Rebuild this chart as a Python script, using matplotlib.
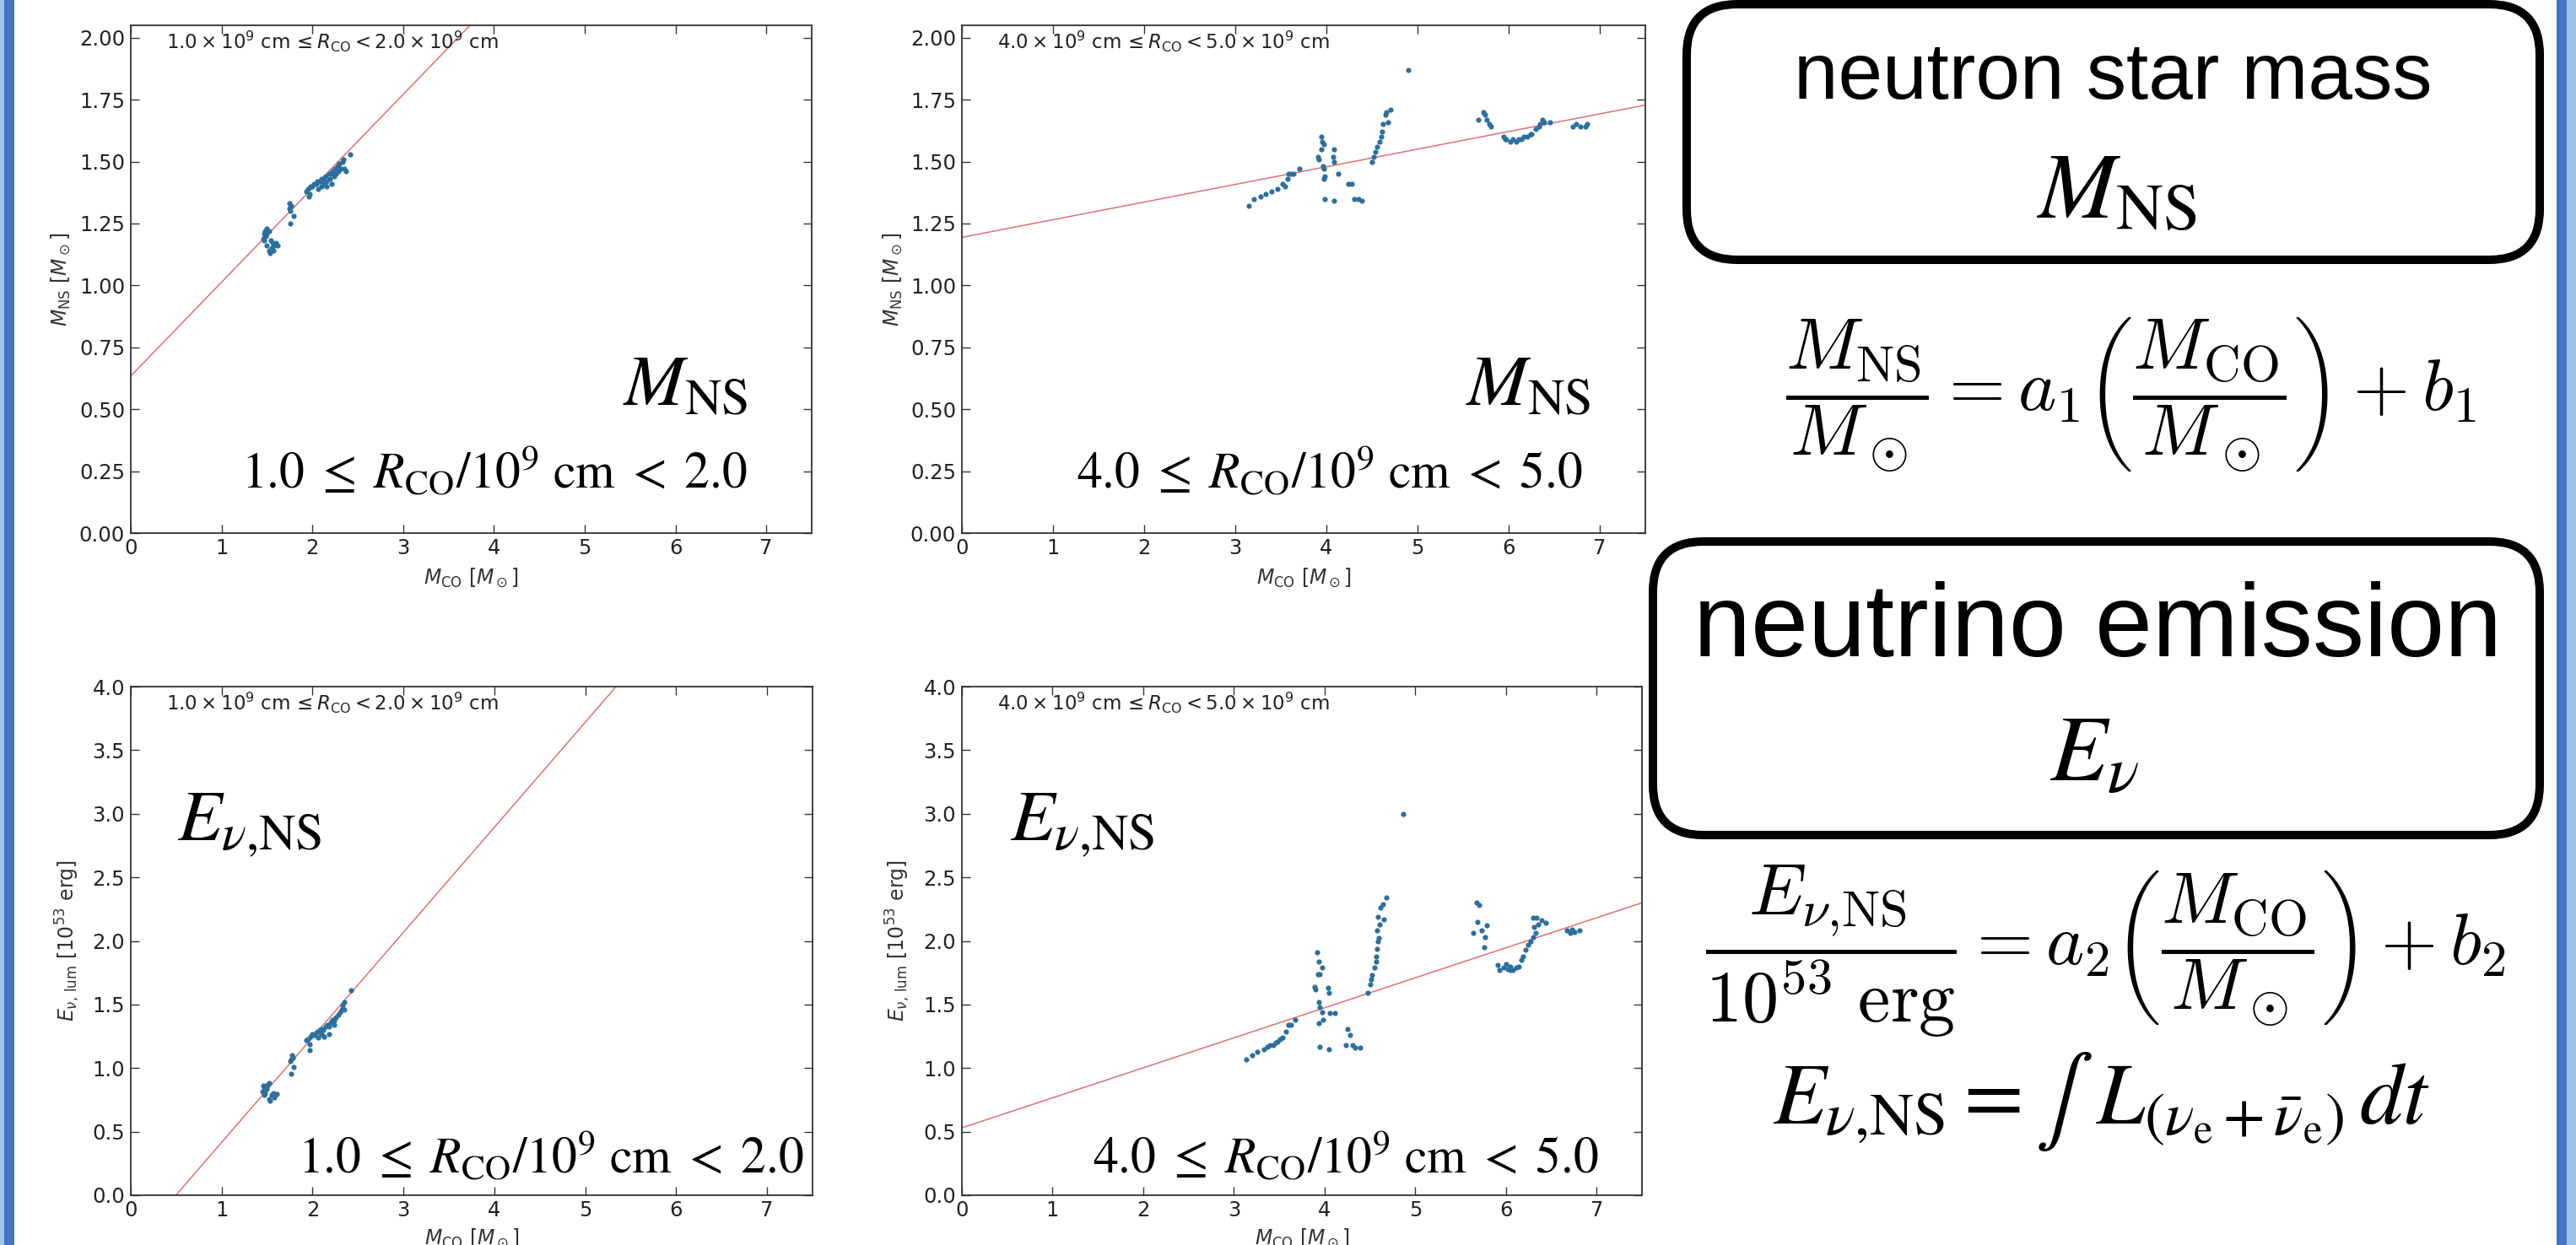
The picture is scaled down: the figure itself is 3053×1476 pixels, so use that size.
import matplotlib
matplotlib.use("Agg")
import matplotlib.pyplot as plt
from matplotlib.patches import FancyBboxPatch, Rectangle

# ---------------- data ----------------
xlim = (0, 7.5)
xticks = [0, 1, 2, 3, 4, 5, 6, 7]
yticks_ns = [0.00, 0.25, 0.50, 0.75, 1.00, 1.25, 1.50, 1.75, 2.00]
yticks_e = [0.0, 0.5, 1.0, 1.5, 2.0, 2.5, 3.0, 3.5, 4.0]

# top-left: 1.0 <= R_CO/1e9 cm < 2.0, M_NS vs M_CO
tl_mco = [1.46, 1.47, 1.48, 1.49, 1.50, 1.51, 1.47, 1.50, 1.52, 1.48,
          1.50, 1.52, 1.53, 1.55, 1.56, 1.58, 1.60, 1.62, 1.57, 1.54,
          1.75, 1.75, 1.76, 1.77, 1.79, 1.76,
          1.93, 1.95, 1.97, 1.98, 2.00, 2.02, 2.04, 2.05, 2.07, 2.09,
          2.10, 2.12, 2.13, 2.15, 2.16, 2.18, 2.19, 2.20, 2.21, 2.22,
          2.24, 2.25, 2.26, 2.28, 2.29, 2.30, 2.31, 2.33, 2.34, 2.35,
          2.37, 2.42, 2.10, 2.16, 2.06, 1.96]
tl_mns = [1.19, 1.21, 1.22, 1.20, 1.23, 1.22, 1.18, 1.21, 1.22, 1.20,
          1.16, 1.14, 1.13, 1.15, 1.17, 1.16, 1.17, 1.16, 1.14, 1.18,
          1.33, 1.31, 1.30, 1.32, 1.28, 1.25,
          1.38, 1.39, 1.37, 1.40, 1.40, 1.41, 1.41, 1.42, 1.42, 1.42,
          1.43, 1.43, 1.41, 1.44, 1.42, 1.45, 1.43, 1.45, 1.41, 1.46,
          1.44, 1.47, 1.45, 1.48, 1.46, 1.49, 1.47, 1.50, 1.51, 1.47,
          1.46, 1.53, 1.40, 1.40, 1.39, 1.36]
tl_fit_slope, tl_fit_icpt = 0.379, 0.634

# top-right: 4.0 <= R_CO/1e9 cm < 5.0, M_NS vs M_CO
tr_mco = [3.15, 3.20, 3.28, 3.33, 3.40, 3.46, 3.52, 3.57, 3.58, 3.61, 3.64, 3.55,
          3.70,
          3.94, 3.95, 3.97, 3.94, 3.91, 3.92, 3.96, 3.97, 3.98, 3.97, 3.98,
          4.08, 4.07, 4.08, 4.13, 4.08,
          4.24, 4.28, 4.31, 4.35, 4.39,
          4.50, 4.52, 4.54, 4.56, 4.58, 4.60, 4.61, 4.62, 4.65, 4.66, 4.68, 4.70,
          4.90,
          5.72, 5.74, 5.67, 5.76, 5.79, 5.81,
          5.94, 5.97, 6.02, 6.08, 6.14, 6.20, 6.25, 6.30, 6.34, 6.39, 6.45,
          6.05, 6.11, 6.17, 6.24, 6.33, 6.37, 5.96,
          6.70, 6.74, 6.79, 6.84, 6.86]
tr_mns = [1.32, 1.35, 1.36, 1.37, 1.38, 1.39, 1.41, 1.43, 1.45, 1.45, 1.45, 1.40,
          1.47,
          1.60, 1.58, 1.57, 1.55, 1.52, 1.51, 1.48, 1.47, 1.44, 1.43, 1.35,
          1.55, 1.52, 1.50, 1.45, 1.34,
          1.41, 1.41, 1.35, 1.35, 1.34,
          1.50, 1.52, 1.54, 1.56, 1.58, 1.60, 1.62, 1.65, 1.69, 1.70, 1.66, 1.71,
          1.87,
          1.70, 1.69, 1.67, 1.67, 1.65, 1.64,
          1.60, 1.59, 1.58, 1.58, 1.59, 1.60, 1.61, 1.63, 1.65, 1.66, 1.66,
          1.59, 1.59, 1.60, 1.61, 1.64, 1.67, 1.59,
          1.64, 1.65, 1.64, 1.64, 1.65]
tr_fit_slope, tr_fit_icpt = 0.0712, 1.194

# bottom-left: 1.0 <= R_CO/1e9 cm < 2.0, E_nu vs M_CO
bl_mco = [1.46, 1.49, 1.45, 1.52, 1.47, 1.50, 1.48,
          1.47, 1.52, 1.55, 1.61, 1.58, 1.53, 1.57,
          1.76, 1.77, 1.75, 1.79, 1.76, 1.78,
          1.93, 1.95, 1.97, 1.98, 2.00, 2.02, 2.04, 2.06, 2.08, 2.10,
          2.12, 2.14, 2.16, 2.18, 2.20, 2.22, 2.24, 2.26, 2.28, 2.30,
          2.32, 2.33, 2.35, 2.10, 2.06, 2.18, 2.24, 2.35, 2.42, 1.97, 2.13]
bl_e = [0.865, 0.834, 0.819, 0.881, 0.85, 0.87, 0.80,
        0.788, 0.756, 0.788, 0.794, 0.772, 0.74, 0.80,
        1.068, 1.099, 1.052, 1.005, 0.953, 1.08,
        1.22, 1.23, 1.19, 1.25, 1.27, 1.26, 1.28, 1.29, 1.30, 1.31,
        1.30, 1.33, 1.34, 1.33, 1.36, 1.38, 1.37, 1.40, 1.42, 1.44,
        1.46, 1.49, 1.52, 1.27, 1.24, 1.27, 1.34, 1.46, 1.61, 1.14, 1.25]
bl_fit_slope, bl_fit_icpt = 0.826, -0.41

# bottom-right: 4.0 <= R_CO/1e9 cm < 5.0, E_nu vs M_CO
br_mco = [3.14, 3.20, 3.26, 3.33, 3.37, 3.43, 3.48, 3.54, 3.57, 3.60, 3.63, 3.51, 3.46, 3.40,
          3.68,
          3.92, 3.94, 3.97, 3.93, 3.95, 3.89, 3.90, 4.04, 4.05, 3.94, 3.95, 3.97, 3.98, 3.94,
          4.06, 4.11, 3.95, 4.05,
          4.25, 4.28, 4.31, 4.34, 4.39, 4.23,
          4.48, 4.50, 4.51, 4.52, 4.55, 4.57, 4.57, 4.58, 4.59, 4.60, 4.58, 4.61, 4.65,
          4.62, 4.64, 4.68, 4.59,
          4.87,
          5.68, 5.70, 5.69, 5.79, 5.73, 5.64, 5.77, 5.76,
          5.91, 5.93, 5.97, 6.02, 6.05, 6.08, 6.11, 6.14, 6.17, 6.19, 6.22, 6.24,
          6.27, 6.30, 6.33, 6.31, 6.30, 6.34, 6.39, 6.44, 6.36, 6.05, 6.00,
          6.67, 6.71, 6.76, 6.81, 6.73]
br_e = [1.07, 1.10, 1.13, 1.15, 1.17, 1.18, 1.21, 1.24, 1.29, 1.34, 1.34, 1.23, 1.20, 1.18,
        1.38,
        1.91, 1.84, 1.79, 1.74, 1.74, 1.64, 1.62, 1.63, 1.59, 1.52, 1.48, 1.44, 1.38, 1.35,
        1.43, 1.43, 1.17, 1.15,
        1.31, 1.26, 1.18, 1.16, 1.16, 1.18,
        1.59, 1.66, 1.70, 1.73, 1.79, 1.84, 1.88, 1.94, 2.00, 2.02, 2.08, 2.13, 2.17,
        2.26, 2.29, 2.34, 2.19,
        3.00,
        2.30, 2.28, 2.15, 2.12, 2.08, 2.06, 2.03, 1.95,
        1.81, 1.77, 1.79, 1.78, 1.80, 1.77, 1.79, 1.80, 1.85, 1.88, 1.93, 1.97,
        2.00, 2.03, 2.06, 2.11, 2.18, 2.18, 2.16, 2.14, 2.13, 1.77, 1.82,
        2.08, 2.06, 2.07, 2.08, 2.09]
br_fit_slope, br_fit_icpt = 0.236, 0.53

range_lo = ["1.0", "4.0"]
range_hi = ["2.0", "5.0"]

# ---------------- figure ----------------
W, H = 3053, 1476
fig = plt.figure(figsize=(W / 100, H / 100), dpi=100)
fig.patch.set_facecolor("white")

def ax_rect(x0, x1, y0, y1):
    return [x0 / W, 1 - y1 / H, (x1 - x0) / W, (y1 - y0) / H]

PT_COLOR = "#2b6f9f"
FIT_COLOR = "#e07070"

def make_panel(rect, xs, ys, slope, icpt, ylim, yticks, ylabel, lo, hi, ylab_x, xlab_y):
    ax = fig.add_axes(rect)
    ax.set_xlim(*xlim)
    ax.set_ylim(*ylim)
    ax.set_xticks(xticks)
    ax.set_yticks(yticks)
    ax.tick_params(direction="in", top=True, right=True, length=7, width=1.0,
                   labelsize=17.5, color="#333333", labelcolor="#222222")
    ax.tick_params(axis="y", pad=5)
    ax.tick_params(axis="x", pad=4)
    for s in ax.spines.values():
        s.set_linewidth(1.3)
        s.set_color("#333333")
    ax.axline((0, icpt), slope=slope, color=FIT_COLOR, lw=1.1, zorder=2)
    ax.scatter(xs, ys, s=20, c=PT_COLOR, linewidths=0, zorder=3)
    ax.set_xlabel(r"$M_{\rm CO}$ [$M_\odot$]", fontsize=17, color="#333333")
    ax.set_ylabel(ylabel, fontsize=17, color="#333333")
    ax.xaxis.set_label_coords(0.5, xlab_y)
    ax.xaxis.label.set_va("center")
    ax.yaxis.set_label_coords(ylab_x, 0.5)
    ax.yaxis.label.set_va("center")
    ax.text(0.052, 0.968,
            r"$%s\times10^9$ cm $\!\leq R_{\rm CO}<%s\times10^9$ cm" % (lo, hi),
            transform=ax.transAxes, fontsize=16.5, va="center", ha="left", color="#222222")
    return ax

lab_ns = r"$M_{\rm NS}$ [$M_\odot$]"
lab_e = r"$E_{\nu,\,\rm lum}$ [$10^{53}$ erg]"

make_panel(ax_rect(155, 962, 30, 632), tl_mco, tl_mns, tl_fit_slope, tl_fit_icpt,
           (0, 2.05), yticks_ns, lab_ns, range_lo[0], range_hi[0], -0.103, -0.088)
make_panel(ax_rect(1140, 1950, 30, 632), tr_mco, tr_mns, tr_fit_slope, tr_fit_icpt,
           (0, 2.05), yticks_ns, lab_ns, range_lo[1], range_hi[1], -0.101, -0.088)
make_panel(ax_rect(155, 963, 814, 1417), bl_mco, bl_e, bl_fit_slope, bl_fit_icpt,
           (0, 4.0), yticks_e, lab_e, range_lo[0], range_hi[0], -0.093, -0.085)
make_panel(ax_rect(1140, 1946, 814, 1417), br_mco, br_e, br_fit_slope, br_fit_icpt,
           (0, 4.0), yticks_e, lab_e, range_lo[1], range_hi[1], -0.094, -0.085)

# ---------------- overlay in pixel coordinates ----------------
ov = fig.add_axes([0, 0, 1, 1], zorder=10)
ov.set_xlim(0, W)
ov.set_ylim(H, 0)
ov.axis("off")
ov.patch.set_alpha(0)

LIGHT_BLUE = "#9dc3e6"
DARK_BLUE = "#4472c4"
ov.add_patch(Rectangle((0, 0), 5, H, color=LIGHT_BLUE, lw=0))
ov.add_patch(Rectangle((5, 0), 12, H, color=DARK_BLUE, lw=0))
ov.add_patch(Rectangle((3030, 0), 12, H, color=DARK_BLUE, lw=0))
ov.add_patch(Rectangle((3042, 0), 11, H, color=LIGHT_BLUE, lw=0))

big_rng = r"$%s\;\leq\;R_{\mathrm{CO}}/10^{9}\ \mathrm{cm}\;<\;%s$"
ov_fs = 43
lab_fs = 62
ov.text(886, 480, r"$M_{\mathrm{NS}}$", fontsize=lab_fs, ha="right", va="baseline",
        math_fontfamily="stix")
ov.text(886, 578, big_rng % (range_lo[0], range_hi[0]), fontsize=ov_fs, ha="right",
        va="baseline", math_fontfamily="stix")
ov.text(1885, 480, r"$M_{\mathrm{NS}}$", fontsize=lab_fs, ha="right", va="baseline",
        math_fontfamily="stix")
ov.text(1876, 578, big_rng % (range_lo[1], range_hi[1]), fontsize=ov_fs, ha="right",
        va="baseline", math_fontfamily="stix")
ov.text(210, 996, r"$E_{\nu{,}\mathrm{NS}}$", fontsize=lab_fs, ha="left", va="baseline",
        math_fontfamily="stix")
ov.text(953, 1390, big_rng % (range_lo[0], range_hi[0]), fontsize=ov_fs, ha="right",
        va="baseline", math_fontfamily="stix")
ov.text(1197, 996, r"$E_{\nu{,}\mathrm{NS}}$", fontsize=lab_fs, ha="left", va="baseline",
        math_fontfamily="stix")
ov.text(1895, 1390, big_rng % (range_lo[1], range_hi[1]), fontsize=ov_fs, ha="right",
        va="baseline", math_fontfamily="stix")

# boxes
box_kw = dict(boxstyle="round,pad=0,rounding_size=60", facecolor="white",
              edgecolor="black", lw=7.2, zorder=1)
ov.add_patch(FancyBboxPatch((1999, 5), 3010 - 1999, 308 - 5, **box_kw))
ov.add_patch(FancyBboxPatch((1959, 642), 3010 - 1959, 990 - 642, **box_kw))

ov.text(2504, 117, "neutron star mass", fontsize=68, ha="center", va="baseline",
        family=["Liberation Sans", "DejaVu Sans"], zorder=3)
ov.text(2508, 258, r"$M_{\mathrm{NS}}$", fontsize=80, ha="center", va="baseline",
        math_fontfamily="stix", zorder=3)
ov.text(2525, 468,
        r"$\dfrac{M_{\rm NS}}{M_\odot} = a_1 \left(\dfrac{M_{\rm CO}}{M_\odot}\right) + b_1$",
        fontsize=62, ha="center", va="center", math_fontfamily="cm", zorder=3)

ov.text(2486, 778, "neutrino emission", fontsize=88, ha="center", va="baseline",
        family=["Liberation Sans", "DejaVu Sans"], zorder=3)
ov.text(2482, 925, r"$E_{\nu}$", fontsize=80, ha="center", va="baseline",
        math_fontfamily="stix", zorder=3)
ov.text(2495, 1128,
        r"$\dfrac{E_{\nu{,}\rm NS}}{10^{53}\ {\rm erg}} = a_2 \left(\dfrac{M_{\rm CO}}{M_\odot}\right) + b_2$",
        fontsize=62, ha="center", va="center", math_fontfamily="cm", zorder=3)
ov.text(2490, 1332,
        r"$E_{\nu{,}\mathrm{NS}} = \int\ L_{(\nu_{\mathrm{e}}+\bar{\nu}_{\mathrm{e}})}\,dt$",
        fontsize=74, ha="center", va="baseline", math_fontfamily="stix", zorder=3)

fig.savefig("out.png", dpi=100)
